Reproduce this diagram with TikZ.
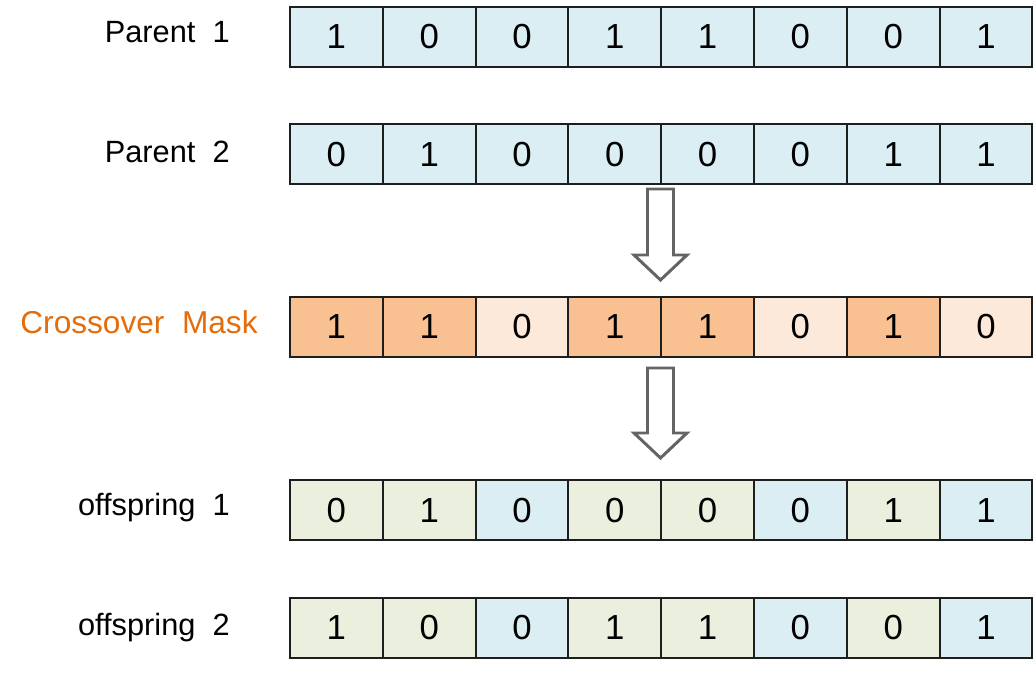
\documentclass[tikz,border=0pt]{standalone}
\usepackage{fontspec}
\setmainfont{Liberation Sans}
\usepackage{tikz}
\usetikzlibrary{positioning,calc}
\definecolor{CellBlue}{RGB}{218,238,243}
\definecolor{MaskDark}{RGB}{249,193,146}
\definecolor{MaskLight}{RGB}{253,233,218}
\definecolor{OffGreen}{RGB}{235,240,222}
\definecolor{MaskText}{RGB}{228,108,10}
\definecolor{ArrowGray}{RGB}{100,100,100}
\definecolor{CellLine}{RGB}{30,30,30}
\tikzset{
  cell/.style={
    draw=CellLine,
    line width=1.1pt,
    minimum width=1.856cm,
    minimum height=1.2cm,
    inner sep=0pt,
    font=\fontsize{19.8}{22}\selectfont
  },
  rowlabel/.style={
    anchor=base east,
    inner sep=0pt,
    font=\fontsize{17.5}{20}\selectfont
  },
  blockarrow/.style={draw=ArrowGray,line width=1.7pt,fill=white,line join=miter}
}

\begin{document}
\begin{tikzpicture}[x=0.02cm,y=-0.02cm]
    \useasboundingbox (0,0) rectangle (1035,675);
    % row labels
    \node[rowlabel] (lblpa) at (230,42.7) {Parent~~1};
    \node[rowlabel] (lblpb) at (230,163) {Parent~~2};
    \node[rowlabel,text=MaskText,font=\fontsize{18}{20}\selectfont] (lblmask) at (258,334) {Crossover~~Mask};
    \node[rowlabel] (lbloa) at (230,515.7) {offspring~~1};
    \node[rowlabel] (lblob) at (230,635) {offspring~~2};
    % parents
    \foreach \b [count=\i] in {1,0,0,1,1,0,0,1}
      \node[cell,fill=CellBlue] (pa-\i) at ({290+92.8*(\i-0.5)},36.6) {\b};
    \foreach \b [count=\i] in {0,1,0,0,0,0,1,1}
      \node[cell,fill=CellBlue] (pb-\i) at ({290+92.8*(\i-0.5)},154.3) {\b};
    % mask
    \foreach \b/\c [count=\i] in {1/MaskDark,1/MaskDark,0/MaskLight,1/MaskDark,1/MaskDark,0/MaskLight,1/MaskDark,0/MaskLight}
      \node[cell,fill=\c] (mask-\i) at ({290+92.8*(\i-0.5)},327) {\b};
    % offspring
    \foreach \b/\c [count=\i] in {0/OffGreen,1/OffGreen,0/CellBlue,0/OffGreen,0/OffGreen,0/CellBlue,1/OffGreen,1/CellBlue}
      \node[cell,fill=\c] (oa-\i) at ({290+92.8*(\i-0.5)},510.4) {\b};
    \foreach \b/\c [count=\i] in {1/OffGreen,0/OffGreen,0/CellBlue,1/OffGreen,1/OffGreen,0/CellBlue,0/OffGreen,1/CellBlue}
      \node[cell,fill=\c] (ob-\i) at ({290+92.8*(\i-0.5)},628) {\b};
    % hollow arrows
    \coordinate (arra) at (660.5,189);
    \coordinate (arrb) at (660.5,368);
    \draw[blockarrow] ($(arra)+(-13,0)$) -- ++(26,0) -- ++(0,66) -- ++(13.5,0)
      -- ++(-26.5,25) -- ++(-26.5,-25) -- ++(13.5,0) -- cycle;
    \draw[blockarrow] ($(arrb)+(-13,0)$) -- ++(26,0) -- ++(0,65) -- ++(13.5,0)
      -- ++(-26.5,25) -- ++(-26.5,-25) -- ++(13.5,0) -- cycle;
  \end{tikzpicture}
\end{document}
